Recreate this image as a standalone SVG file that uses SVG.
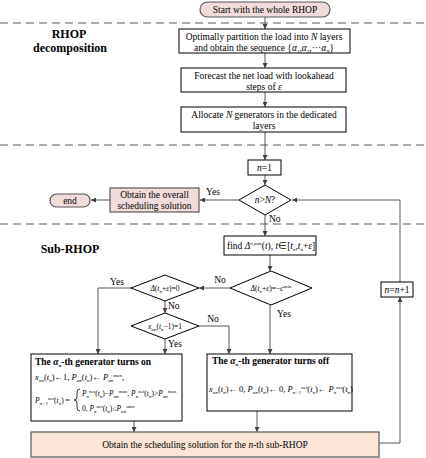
<svg xmlns="http://www.w3.org/2000/svg" width="426" height="458" viewBox="0 0 426 458" font-family="Liberation Serif, serif">
<defs>
<marker id="ah" viewBox="0 0 6 6" refX="6" refY="3" markerWidth="5" markerHeight="5" orient="auto" markerUnits="userSpaceOnUse">
<path d="M0,0 L6,3 L0,6 z" fill="#404040"/>
</marker>
<style>
text{font-family:Liberation Serif, serif;font-size:9.5px;fill:#000}
.b{font-weight:bold}
.t{font-size:12px;font-weight:bold}
.m{font-size:7.5px}
.m2{font-size:8.5px}
.s{font-size:5px}
.i{font-style:italic}
.box{fill:#fff;stroke:#000;stroke-width:1}
.pink{fill:#f2dcdb;stroke:#595959;stroke-width:1.2}
.peach{fill:#fbe5d6;stroke:#595959;stroke-width:1.2}
.dash{stroke:#595959;stroke-width:1.2;stroke-dasharray:8,5;fill:none}
.c{stroke:#595959;stroke-width:1;fill:none;marker-end:url(#ah)}
.dia{fill:#fff;stroke:#000;stroke-width:1}
</style>
</defs>

<g id="separators">
<line class="dash" x1="0" y1="23" x2="426" y2="23"/>
<line class="dash" x1="0" y1="145" x2="426" y2="145"/>
<line class="dash" x1="0" y1="224" x2="426" y2="224"/>
<text class="t" x="69" y="38" text-anchor="middle">RHOP</text>
<text class="t" x="70" y="52" text-anchor="middle">decomposition</text>
<text class="t" x="70" y="253" text-anchor="middle">Sub-RHOP</text>
</g>

<g id="connectors">
<line class="c" x1="265" y1="17" x2="265" y2="29"/>
<line class="c" x1="265" y1="53" x2="265" y2="68"/>
<line class="c" x1="265" y1="92" x2="265" y2="107"/>
<line class="c" x1="265" y1="132" x2="265" y2="160"/>
<line class="c" x1="265" y1="175" x2="265" y2="185"/>
<line class="c" x1="239" y1="200" x2="200" y2="200"/>
<line class="c" x1="110" y1="200" x2="91" y2="200"/>
<line class="c" x1="265" y1="215" x2="265" y2="236"/>
<line class="c" x1="270" y1="255" x2="270" y2="271"/>
<line class="c" x1="230" y1="288" x2="199" y2="288"/>
<polyline class="c" points="131,288 98,288 98,354"/>
<line class="c" x1="165" y1="301" x2="165" y2="313"/>
<line class="c" x1="165" y1="339" x2="165" y2="354"/>
<polyline class="c" points="199,326 229,326 229,354"/>
<line class="c" x1="270" y1="305" x2="270" y2="354"/>
<line class="c" x1="134" y1="421" x2="134" y2="432"/>
<line class="c" x1="257" y1="411" x2="257" y2="432"/>
<polyline class="c" points="379,443 400,443 400,297"/>
<polyline class="c" points="400,282 400,200 292,200"/>
<text x="213" y="195" text-anchor="middle">Yes</text>
<text x="269" y="222">No</text>
<text x="220" y="283" text-anchor="middle">No</text>
<text x="117" y="285" text-anchor="middle">Yes</text>
<text x="168" y="309">No</text>
<text x="168" y="347">Yes</text>
<text x="213" y="322" text-anchor="middle">No</text>
<text x="277" y="317">Yes</text>
</g>

<g id="start">
<rect class="pink" x="200" y="2" width="130" height="15" rx="7.5"/>
<text x="265" y="13" text-anchor="middle">Start with the whole RHOP</text>
</g>

<g id="partition">
<rect class="box" x="179" y="29" width="171" height="24"/>
<text x="264" y="40" text-anchor="middle">Optimally partition the load into <tspan class="i">N</tspan> layers</text>
<text x="264" y="51" text-anchor="middle">and obtain the sequence  {<tspan class="i">α</tspan><tspan class="s" dy="2">1</tspan><tspan dy="-2">,</tspan><tspan class="i">α</tspan><tspan class="s" dy="2">2</tspan><tspan dy="-2">,···</tspan><tspan class="i">α</tspan><tspan class="s i" dy="2">N</tspan><tspan dy="-2">}</tspan></text>
</g>

<g id="forecast">
<rect class="box" x="181" y="68" width="165" height="24"/>
<text x="264" y="79" text-anchor="middle">Forecast the net load with lookahead</text>
<text x="264" y="90" text-anchor="middle">steps of <tspan class="i">ε</tspan></text>
</g>

<g id="allocate">
<rect class="box" x="181" y="107" width="165" height="25"/>
<text x="264" y="118" text-anchor="middle">Allocate <tspan class="i">N</tspan> generators in the dedicated</text>
<text x="264" y="129" text-anchor="middle">layers</text>
</g>

<g id="n1">
<rect class="box" x="248" y="160" width="33" height="15"/>
<text x="264.5" y="171" text-anchor="middle"><tspan class="i">n</tspan>=1</text>
</g>

<g id="check-n">
<polygon class="dia" points="265,185 291,200 265,215 239,200"/>
<text x="265" y="203" text-anchor="middle"><tspan class="i">n</tspan>&gt;<tspan class="i">N</tspan>?</text>
</g>

<g id="overall">
<rect class="pink" x="110" y="188" width="89" height="24"/>
<text x="154.5" y="198" text-anchor="middle">Obtain the overall</text>
<text x="154.5" y="209" text-anchor="middle">scheduling solution</text>
</g>

<g id="end">
<rect class="pink" x="50" y="194" width="40" height="13" rx="6.5"/>
<text x="70" y="204" text-anchor="middle">end</text>
</g>

<g id="find">
<rect class="box" x="224" y="236" width="92" height="19"/>
<text x="227" y="249">find <tspan class="i">Δ</tspan><tspan class="s" dy="-4"><tspan class="i">n</tspan>,min</tspan><tspan dy="4">(<tspan class="i">t</tspan>), <tspan class="i">t</tspan>∈[<tspan class="i">t</tspan></tspan><tspan class="s i" dy="2">n</tspan><tspan dy="-2">,<tspan class="i">t</tspan></tspan><tspan class="s i" dy="2">n</tspan><tspan dy="-2">+<tspan class="i">ε</tspan>]</tspan></text>
</g>

<g id="check-min">
<polygon class="dia" points="271,271 312,288 271,305 230,288"/>
<text class="m" x="271" y="291" text-anchor="middle"><tspan class="i">Δ</tspan>(<tspan class="i">t</tspan><tspan class="s i" dy="2">n</tspan><tspan dy="-2">+<tspan class="i">ε</tspan>)=−<tspan class="i">c</tspan></tspan><tspan class="s" dy="-3">min</tspan></text>
</g>

<g id="check-zero">
<polygon class="dia" points="165,275 199,288 165,301 131,288"/>
<text class="m" x="165" y="291" text-anchor="middle"><tspan class="i">Δ</tspan>(<tspan class="i">t</tspan><tspan class="s i" dy="2">n</tspan><tspan dy="-2">+<tspan class="i">ε</tspan>)=0</tspan></text>
</g>

<g id="check-state">
<polygon class="dia" points="165,313 199,326 165,339 131,326"/>
<text class="m" x="165" y="329" text-anchor="middle"><tspan class="i">x</tspan><tspan class="s i" dy="2">αn</tspan><tspan dy="-2">(<tspan class="i">t</tspan></tspan><tspan class="s i" dy="2">n</tspan><tspan dy="-2">−1)=1</tspan></text>
</g>

<g id="turn-on">
<rect class="box" x="31" y="354" width="151" height="67"/>
<text class="b" x="35" y="365">The <tspan class="i">α</tspan><tspan class="s i" dy="2">n</tspan><tspan dy="-2">-th generator turns on</tspan></text>
<text class="m2" x="35" y="380"><tspan class="i">x</tspan><tspan class="s i" dy="2">αn</tspan><tspan dy="-2">(<tspan class="i">t</tspan></tspan><tspan class="s i" dy="2">n</tspan><tspan dy="-2">)←1,  <tspan class="i">P</tspan></tspan><tspan class="s i" dy="2">αn</tspan><tspan dy="-2">(<tspan class="i">t</tspan></tspan><tspan class="s i" dy="2">n</tspan><tspan dy="-2">)← <tspan class="i">P</tspan></tspan><tspan class="s i" dy="2">αn</tspan><tspan class="s" dy="-5">max</tspan><tspan dy="3">,</tspan></text>
<text class="m" x="35" y="403"><tspan class="i">P</tspan><tspan class="s i" dy="2">n+1</tspan><tspan class="s" dy="-5">net</tspan><tspan dy="3">(<tspan class="i">t</tspan></tspan><tspan class="s i" dy="2">n</tspan><tspan dy="-2">) =</tspan></text>
<path d="M80,389 q-3,0 -3,3 v5 q0,3 -3,3 q3,0 3,3 v5 q0,3 3,3" fill="none" stroke="#000" stroke-width="0.8"/>
<text class="m" x="82" y="396"><tspan class="i">P</tspan><tspan class="s i" dy="2">n</tspan><tspan class="s" dy="-5">net</tspan><tspan dy="3">(<tspan class="i">t</tspan></tspan><tspan class="s i" dy="2">n</tspan><tspan dy="-2">)−<tspan class="i">P</tspan></tspan><tspan class="s i" dy="2">αn</tspan><tspan class="s" dy="-5">max</tspan><tspan dy="3">, <tspan class="i">P</tspan></tspan><tspan class="s i" dy="2">n</tspan><tspan class="s" dy="-5">net</tspan><tspan dy="3">(<tspan class="i">t</tspan></tspan><tspan class="s i" dy="2">n</tspan><tspan dy="-2">)&gt;<tspan class="i">P</tspan></tspan><tspan class="s i" dy="2">αn</tspan><tspan class="s" dy="-5">max</tspan></text>
<text class="m" x="82" y="411">0,  <tspan class="i">P</tspan><tspan class="s i" dy="2">n</tspan><tspan class="s" dy="-5">net</tspan><tspan dy="3">(<tspan class="i">t</tspan></tspan><tspan class="s i" dy="2">n</tspan><tspan dy="-2">)≤<tspan class="i">P</tspan></tspan><tspan class="s i" dy="2">αn</tspan><tspan class="s" dy="-5">max</tspan></text>
</g>

<g id="turn-off">
<rect class="box" x="207" y="354" width="145" height="57"/>
<text class="b" x="212" y="364">The <tspan class="i">α</tspan><tspan class="s i" dy="2">n</tspan><tspan dy="-2">-th generator turns off</tspan></text>
<text class="m2" x="209" y="392"><tspan class="i">x</tspan><tspan class="s i" dy="2">αn</tspan><tspan dy="-2">(<tspan class="i">t</tspan></tspan><tspan class="s i" dy="2">n</tspan><tspan dy="-2">)← 0, <tspan class="i">P</tspan></tspan><tspan class="s i" dy="2">αn</tspan><tspan dy="-2">(<tspan class="i">t</tspan></tspan><tspan class="s i" dy="2">n</tspan><tspan dy="-2">)← 0, <tspan class="i">P</tspan></tspan><tspan class="s i" dy="2">n+1</tspan><tspan class="s" dy="-5">net</tspan><tspan dy="3">(<tspan class="i">t</tspan></tspan><tspan class="s i" dy="2">n</tspan><tspan dy="-2">)← <tspan class="i">P</tspan></tspan><tspan class="s i" dy="2">n</tspan><tspan class="s" dy="-5">net</tspan><tspan dy="3">(<tspan class="i">t</tspan></tspan><tspan class="s i" dy="2">n</tspan><tspan dy="-2">)</tspan></text>
</g>

<g id="sub-solution">
<rect class="peach" x="31" y="432" width="348" height="25"/>
<text x="205" y="448" text-anchor="middle">Obtain the scheduling solution for the <tspan class="i">n</tspan>-th sub-RHOP</text>
</g>

<g id="increment">
<rect class="box" x="381" y="282" width="32" height="15"/>
<text x="397" y="293" text-anchor="middle"><tspan class="i">n</tspan>=<tspan class="i">n</tspan>+1</text>
</g>
</svg>
